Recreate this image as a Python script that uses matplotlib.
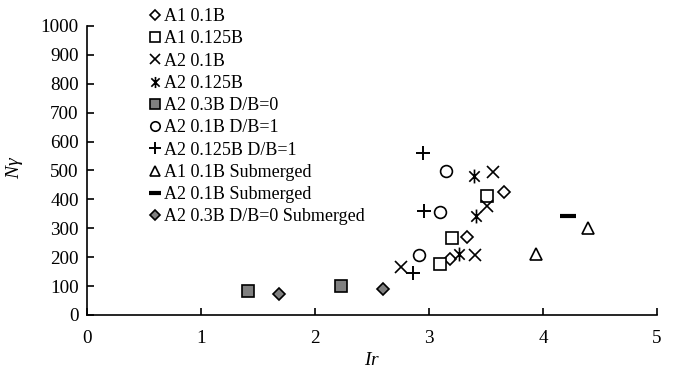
import matplotlib
matplotlib.use("Agg")
import matplotlib.pyplot as plt
from matplotlib.path import Path

plt.rcParams['font.family'] = ['Liberation Serif', 'DejaVu Serif']
plt.rcParams['mathtext.fontset'] = 'custom'
plt.rcParams['mathtext.it'] = 'Liberation Serif:italic'
plt.rcParams['mathtext.rm'] = 'Liberation Serif'

labels = ["A1 0.1B", "A1 0.125B", "A2 0.1B", "A2 0.125B", "A2 0.3B D/B=0",
          "A2 0.1B D/B=1", "A2 0.125B D/B=1", "A1 0.1B Submerged",
          "A2 0.1B Submerged", "A2 0.3B D/B=0 Submerged"]

a1_01_x = [3.66, 3.33, 3.18]
a1_01_y = [427, 271, 194]
a1_0125_x = [3.51, 3.20, 3.10]
a1_0125_y = [413, 265, 176]
a2_01_x = [3.56, 3.51, 3.40, 2.75]
a2_01_y = [496, 377, 208, 167]
a2_0125_x = [3.39, 3.41, 3.26]
a2_0125_y = [481, 344, 210]
a2_03_x = [1.415, 2.23]
a2_03_y = [83, 101]
a2_01_db1_x = [3.15, 3.10, 2.91]
a2_01_db1_y = [499, 355, 207]
a2_0125_db1_x = [2.95, 2.96, 2.86]
a2_0125_db1_y = [559, 361, 146]
a1_01_sub_x = [4.39, 3.94]
a1_01_sub_y = [302, 210]
a2_01_sub_x = [4.22]
a2_01_sub_y = [344]
a2_03_sub_x = [1.68, 2.60]
a2_03_sub_y = [72, 89]

xticks = [0, 1, 2, 3, 4, 5]
yticks = list(range(0, 1001, 100))

ast = Path([(0, -1), (0, 1), (-0.75, -0.75), (0.75, 0.75), (-0.75, 0.75), (0.75, -0.75)],
           [Path.MOVETO, Path.LINETO, Path.MOVETO, Path.LINETO, Path.MOVETO, Path.LINETO])

fig = plt.figure(figsize=(6.76, 3.71), dpi=100)
ax = fig.add_axes([0.1287, 0.151, 0.8433, 0.779])

series = [
    (a1_01_x, a1_01_y, dict(marker='D', ms=6, mfc='white', mec='black', mew=1.2)),
    (a1_0125_x, a1_0125_y, dict(marker='s', ms=8.5, mfc='white', mec='black', mew=1.2)),
    (a2_01_x, a2_01_y, dict(marker='x', ms=9, mec='black', mew=1.2)),
    (a2_0125_x, a2_0125_y, dict(marker=ast, ms=10, mec='black', mew=1.2)),
    (a2_03_x, a2_03_y, dict(marker='s', ms=8.5, mfc='#808080', mec='black', mew=1.2)),
    (a2_01_db1_x, a2_01_db1_y, dict(marker='o', ms=8.5, mfc='white', mec='black', mew=1.2)),
    (a2_0125_db1_x, a2_0125_db1_y, dict(marker='+', ms=10, mec='black', mew=1.4)),
    (a1_01_sub_x, a1_01_sub_y, dict(marker='^', ms=8.5, mfc='white', mec='black', mew=1.2)),
    (a2_01_sub_x, a2_01_sub_y, dict(marker='_', ms=11, mec='black', mew=3)),
    (a2_03_sub_x, a2_03_sub_y, dict(marker='D', ms=6, mfc='#808080', mec='black', mew=1.2)),
]
for (xs, ys, st), lab in zip(series, labels):
    ax.plot(xs, ys, linestyle='none', label=lab, **st)

ax.set_xlim(0, 5)
ax.set_ylim(0, 1000)
ax.set_xticks(xticks)
ax.set_yticks(yticks)
ax.spines['top'].set_visible(False)
ax.spines['right'].set_visible(False)
for s in ['left', 'bottom']:
    ax.spines[s].set_linewidth(1.2)
ax.tick_params(direction='in', length=5, width=1.2, labelsize=13.8)
ax.tick_params(axis='x', pad=11)
ax.tick_params(axis='y', pad=6)

ax.set_xlabel(r'$Ir$', fontsize=14, labelpad=2)
ax.xaxis.set_label_coords(0.5, -0.128)
ax.set_ylabel(r'$N\gamma$', fontsize=14, rotation=90)
ax.yaxis.set_label_coords(-0.108, 0.51)

leg = fig.legend(loc='upper left', bbox_to_anchor=(0.203, 1.012), frameon=False,
                 fontsize=13, handlelength=0.6, handletextpad=0.2,
                 labelspacing=0.29, borderpad=0.2, markerscale=0.8)

fig.savefig('out.png', dpi=100)
